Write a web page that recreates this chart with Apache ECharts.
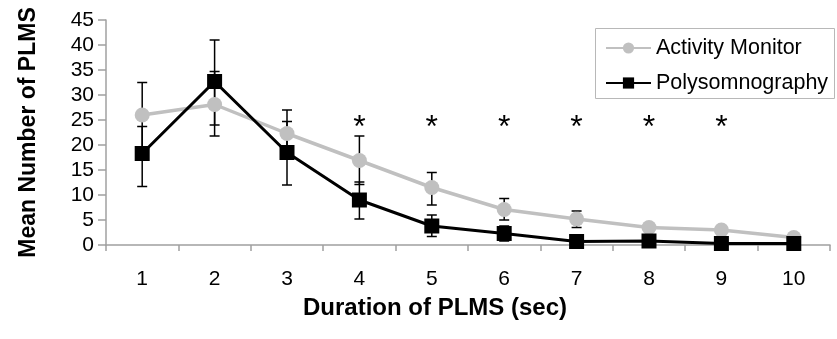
<!DOCTYPE html>
<html>
<head>
<meta charset="utf-8">
<script src="https://cdn.jsdelivr.net/npm/echarts@6/dist/echarts.min.js"></script>
<style>html,body{margin:0;padding:0;background:#fff}#c{width:837px;height:339px}</style>
</head>
<body>
<div id="c"></div>
<script>
var categories = ['1','2','3','4','5','6','7','8','9','10'];
var activityMonitor = [26.0, 28.1, 22.3, 16.9, 11.5, 7.1, 5.2, 3.5, 3.0, 1.5];
var polysomnography = [18.3, 32.7, 18.5, 9.0, 3.8, 2.3, 0.7, 0.8, 0.3, 0.3];
var amLow  = [19.5, 21.8, 17.6, 12.1, 8.0, 5.0, 3.5, 2.8, 2.4, 1.0];
var amHigh = [32.5, 34.7, 27.0, 21.8, 14.5, 9.3, 6.8, 4.2, 3.6, 2.0];
var psgLow  = [11.7, 24.0, 12.0, 5.2, 1.7, 0.8, 0.2, 0.3, 0.0, 0.0];
var psgHigh = [23.7, 41.0, 24.7, 12.6, 6.0, 3.8, 1.2, 1.3, 0.6, 0.6];
var starCategories = ['4','5','6','7','8','9'];
var starLevel = [23.3, 23.3, 23.3, 23.3, 23.3, 23.3];
var yTicks = {min: 0, max: 45, interval: 5};

var FONT = '"Liberation Sans", Arial, sans-serif';

function errData(low, high) {
  return categories.map(function (c, i) { return [i, low[i], high[i]]; });
}
function errorRender(params, api) {
  var x = api.value(0);
  var lo = api.coord([x, api.value(1)]);
  var hi = api.coord([x, api.value(2)]);
  var hw = 5;
  var st = {stroke: '#000', lineWidth: 1.5};
  return {
    type: 'group',
    children: [
      {type: 'line', shape: {x1: lo[0], y1: lo[1], x2: hi[0], y2: hi[1]}, style: st},
      {type: 'line', shape: {x1: lo[0]-hw, y1: lo[1], x2: lo[0]+hw, y2: lo[1]}, style: st},
      {type: 'line', shape: {x1: hi[0]-hw, y1: hi[1], x2: hi[0]+hw, y2: hi[1]}, style: st}
    ]
  };
}

var chart = echarts.init(document.getElementById('c'), null, {renderer: 'canvas'});
chart.setOption({
  animation: false,
  textStyle: {fontFamily: FONT},
  grid: {left: 106, right: 7, top: 20, bottom: 94},
  graphic: [{
    type: 'rect', left: 595, top: 28, z: 1,
    shape: {width: 239, height: 70},
    style: {fill: '#fff', stroke: '#b8b8b8', lineWidth: 1}
  }],
  legend: {
    left: 595, top: 28, orient: 'vertical', z: 5,
    padding: [9, 2, 6, 10], itemGap: 13,
    itemWidth: 45, itemHeight: 14,
    textStyle: {fontFamily: FONT, fontSize: 21.5, color: '#000'},
    data: ['Activity Monitor', 'Polysomnography']
  },
  xAxis: {
    type: 'category', data: categories, boundaryGap: true,
    axisLine: {lineStyle: {color: '#a0a0a0', width: 1.5}},
    axisTick: {show: true, length: 6, lineStyle: {color: '#a0a0a0', width: 1.5}},
    axisLabel: {fontFamily: FONT, fontSize: 21, color: '#000', margin: 24},
    name: 'Duration of PLMS (sec)', nameLocation: 'middle', nameGap: 51,
    nameTextStyle: {fontFamily: FONT, fontSize: 24, fontWeight: 'bold', color: '#000', padding: [0, 66, 0, 0]}
  },
  yAxis: {
    type: 'value', min: yTicks.min, max: yTicks.max, interval: yTicks.interval,
    splitLine: {show: false},
    axisLine: {show: true, lineStyle: {color: '#a0a0a0', width: 1.5}},
    axisTick: {show: true, length: 8, lineStyle: {color: '#a0a0a0', width: 1.5}},
    axisLabel: {fontFamily: FONT, fontSize: 21, color: '#000', margin: 12},
    name: 'Mean Number of PLMS', nameLocation: 'middle', nameGap: 66,
    nameTextStyle: {fontFamily: FONT, fontSize: 23, fontWeight: 'bold', color: '#000'}
  },
  series: [
    {
      type: 'custom', name: 'amErr', renderItem: errorRender, z: 1,
      data: errData(amLow, amHigh), encode: {x: 0, y: [1, 2]}, silent: true
    },
    {
      type: 'custom', name: 'psgErr', renderItem: errorRender, z: 1,
      data: errData(psgLow, psgHigh), encode: {x: 0, y: [1, 2]}, silent: true
    },
    {
      type: 'line', name: 'Activity Monitor', data: activityMonitor, z: 2,
      symbol: 'circle', symbolSize: 15, showAllSymbol: true,
      lineStyle: {color: '#c0c0c0', width: 3.5},
      itemStyle: {color: '#c0c0c0'}
    },
    {
      type: 'line', name: 'Polysomnography', data: polysomnography, z: 3,
      symbol: 'rect', symbolSize: 15, showAllSymbol: true,
      lineStyle: {color: '#000', width: 3},
      itemStyle: {color: '#000'}
    },
    {
      type: 'custom', name: 'stars', silent: true, z: 4,
      data: starCategories.map(function (c, i) { return [categories.indexOf(c), starLevel[i]]; }),
      encode: {x: 0, y: 1},
      renderItem: function (params, api) {
        var p = api.coord([api.value(0), api.value(1)]);
        return {type: 'text', x: p[0], y: p[1],
          style: {text: '*', fill: '#000', font: '32px ' + FONT, textAlign: 'center', textVerticalAlign: 'middle'}};
      }
    }
  ]
});
</script>
</body>
</html>
